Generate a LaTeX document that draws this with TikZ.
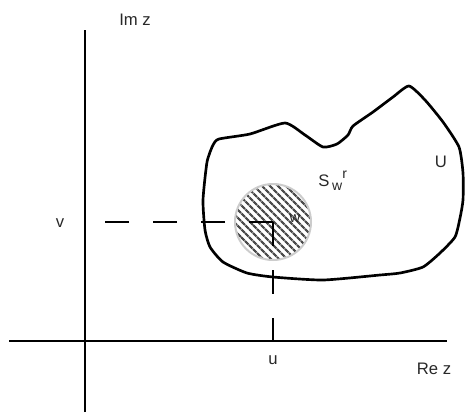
\documentclass[tikz,border=0pt]{standalone}
\usepackage{fontspec}
\setmainfont{Liberation Sans}
\usepackage{tikz}
\usetikzlibrary{patterns.meta}
\definecolor{labelgray}{RGB}{40,40,40}

\begin{document}
\begin{tikzpicture}[
    x=0.75pt, y=-0.75pt,
    axis/.style={line width=2.1pt, black},
    proj/.style={line width=1.6pt, black, dash pattern=on 18pt off 18pt},
    lbl/.style={inner sep=0pt, text=labelgray, font=\fontsize{12.5}{14}\selectfont}
]
\useasboundingbox (0,0) rectangle (467,412);
% assi del piano complesso
\coordinate (ImBot) at (85,412);
\coordinate (ImTop) at (85,30);
\coordinate (ReLeft) at (9,341);
\coordinate (ReRight) at (447,341);
\draw[axis] (ImBot) -- (ImTop);
\draw[axis] (ReLeft) -- (ReRight);
% regione U
\draw[line width=2pt, black, line join=round]
  plot[smooth cycle, tension=0.35] coordinates {
    (219,139) (250,134) (285,123) (305,135) (323,147) (337,144) (348,135)
    (353,126) (373,112) (393,97) (409,86) (425,100) (443,122) (459,147)
    (463,173) (463,200) (460,218) (455,237) (440,253) (423,267) (400,273)
    (380,275) (323,280) (273,277) (247,273) (223,262) (210,247) (205,230)
    (203,200) (207,162) (213,145)};
% disco S_w^r tratteggiato
\coordinate (w) at (273,222);
\fill[pattern={Lines[angle=-45, distance=4pt, line width=1.8pt]}, pattern color=black!70]
  (w) circle[radius=38];
\draw[line width=1.5pt, gray!40] (w) circle[radius=38];
% proiezioni su assi
\coordinate (vPt) at (105,222);
\coordinate (uPt) at (273,341);
\draw[proj] (w) -- (vPt);
\draw[proj] (w) -- (uPt);
% etichette
\node[lbl] (ImLbl) at (135,20) {Im z};
\node[lbl] (ReLbl) at (434,369) {Re z};
\node[lbl] (uLbl) at (273,360) {u};
\node[lbl] (vLbl) at (60,223) {v};
\node[lbl] (ULbl) at (441,162) {U};
\node[lbl, anchor=base west] (SLbl) at (318,186)
  {S\,{\fontsize{10.5}{12}\selectfont\raisebox{-3pt}{w}\raisebox{6pt}{r}}};
\node[lbl, font=\fontsize{11}{13}\selectfont] (wLbl) at (295,219) {w};
\end{tikzpicture}
\end{document}
